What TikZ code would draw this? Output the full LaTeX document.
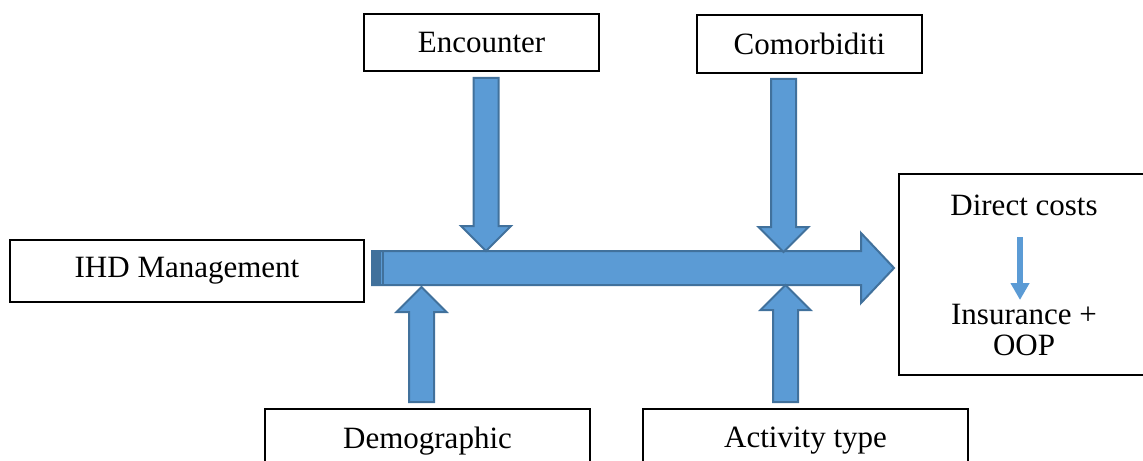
\documentclass[tikz,border=0pt]{standalone}
\usepackage{fontspec}
\setmainfont{Liberation Serif}
\usepackage{tikz}
\usetikzlibrary{arrows.meta,calc}
\definecolor{arrowfill}{RGB}{91,155,213}
\definecolor{arrowline}{RGB}{65,113,156}

\tikzset{
  ba shaft/.store in=\bashaft, ba head/.store in=\bahead, ba len/.store in=\balen,
  ba shaft=6.25pt, ba head=12.5pt, ba len=12.5pt,
  blockarrow/.style={draw=arrowline,fill=arrowfill,line width=1pt,line join=miter,
    to path={($(\tikztostart)!\bashaft!90:(\tikztotarget)$)
      -- ($(\tikztotarget)!\balen!(\tikztostart)!\bashaft!-90:(\tikztostart)$)
      -- ($(\tikztotarget)!\balen!(\tikztostart)!\bahead!-90:(\tikztostart)$)
      -- (\tikztotarget)
      -- ($(\tikztotarget)!\balen!(\tikztostart)!\bahead!90:(\tikztostart)$)
      -- ($(\tikztotarget)!\balen!(\tikztostart)!\bashaft!90:(\tikztostart)$)
      -- ($(\tikztostart)!\bashaft!-90:(\tikztotarget)$)
      -- cycle}},
}

\begin{document}
\begin{tikzpicture}[
  x=0.5pt, y=-0.5pt,
  every node/.style={font=\fontsize{15.5}{15.5}\selectfont},
  factor/.style={draw=black,line width=0.75pt,inner sep=0pt,align=center},
  smallarr/.style={-{Triangle[width=9pt,length=8.5pt]},line width=3pt,arrowfill},
]
  \useasboundingbox (0,0) rectangle (1143,460);

  % Boxes
  \node[factor,minimum width=177pt,minimum height=31pt] (ihd) at (187,271) {IHD Management};
  \node[factor,minimum width=117.5pt,minimum height=28.5pt] (enc) at (481.5,42.5) {Encounter};
  \node[factor,minimum width=112.5pt,minimum height=29pt] (com) at (809.5,44) {Comorbiditi};
  \node[factor,minimum width=162.5pt,minimum height=32pt] (dem) at (427.5,441) {Demographic};
  \node[factor,minimum width=162.5pt,minimum height=32pt] (act) at (805.5,441) {Activity type};
  \node[factor,minimum width=130.5pt,minimum height=100.5pt] (dc) at (1029.5,274.5) {};

  % Outcome texts
  \node (dct) at (1024,205) {Direct costs};
  \node[align=center] (ins) at (1024,330) {Insurance +\\OOP};

  % Arrow end points
  \coordinate (flow-s) at (372,268);
  \coordinate (flow-e) at (894,268);
  \coordinate (enc-a) at (486,78);
  \coordinate (enc-b) at (486,251);
  \coordinate (com-a) at (783.5,79);
  \coordinate (com-b) at (783.5,252);
  \coordinate (dem-a) at (421.5,402);
  \coordinate (dem-b) at (421.5,287);
  \coordinate (act-a) at (785.5,402);
  \coordinate (act-b) at (785.5,285);
  \coordinate (dc-a) at (1020,237);
  \coordinate (dc-b) at (1020,300);

  % Main flow
  \draw[blockarrow,ba shaft=8.5pt,ba head=17.5pt,ba len=16.5pt] (flow-s) to (flow-e);
  \fill[arrowline] (372,251) rectangle (381,285);
  \draw[arrowline,line width=1pt] (383,251) -- (383,285);

  % Factors acting on the flow
  \draw[blockarrow] (enc-a) to (enc-b);
  \draw[blockarrow] (com-a) to (com-b);
  \draw[blockarrow] (dem-a) to (dem-b);
  \draw[blockarrow] (act-a) to (act-b);

  % Cost split
  \draw[smallarr] (dc-a) -- (dc-b);
\end{tikzpicture}
\end{document}
